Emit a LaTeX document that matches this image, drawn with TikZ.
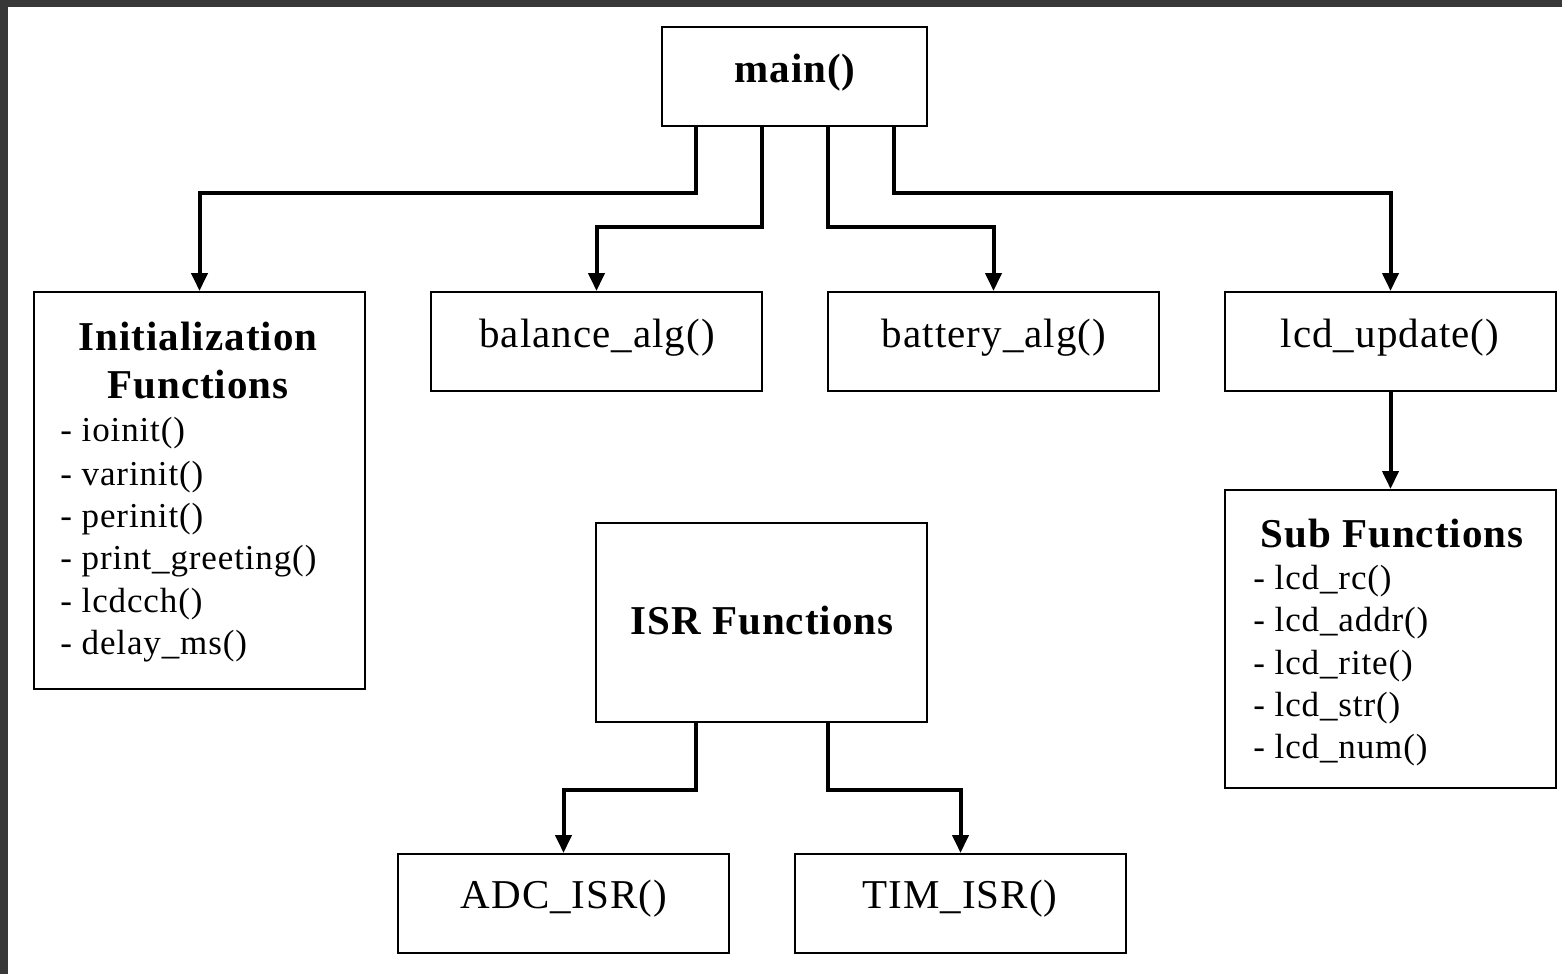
\documentclass[tikz,border=0pt]{standalone}
\usepackage{fontspec}
\setmainfont[LetterSpace=2.5]{Liberation Serif}
\usetikzlibrary{arrows.meta}
\begin{document}
\begin{tikzpicture}[x=0.5pt,y=-0.5pt,
  box/.style={draw=black,line width=1pt,fill=white,inner sep=0pt,minimum width=165.5pt,minimum height=49.5pt},
  lbl/.style={font=\fontsize{20.5}{24}\selectfont},
  ttl/.style={font=\fontsize{20.5}{24}\selectfont\bfseries},
  item/.style={font=\fontsize{17.5}{20}\selectfont,anchor=west,inner sep=0pt},
  conn/.style={line width=2pt,-{Triangle[length=9pt,width=8pt]}}]
\useasboundingbox (0,0) rectangle (1562,974);
\fill[white] (0,0) rectangle (1562,974);
\fill[black!78] (0,0) rectangle (1562,7);
\fill[black!78] (0,0) rectangle (8,974);
% boxes
\node[box,minimum width=132.5pt] (main) at (794.5,76.5) {};
\node[ttl] (maint) at (795,73) {main()};
\node[box,minimum height=198.5pt] (init) at (199.5,490.5) {};
\node[box] (bal) at (596.5,341.5) {};
\node[lbl] (balt) at (597,338) {balance\_alg()};
\node[box] (bat) at (993.5,341.5) {};
\node[lbl] (batt) at (994,338) {battery\_alg()};
\node[box] (lcd) at (1390.5,341.5) {};
\node[lbl] (lcdt) at (1390,338) {lcd\_update()};
\node[box,minimum height=149pt] (sub) at (1390.5,639) {};
\node[box,minimum height=99.5pt] (isr) at (761.5,622.5) {};
\node[ttl] (isrt) at (762,621) {ISR Functions};
\node[box] (adc) at (563.5,903.5) {};
\node[lbl] (adct) at (564,899) {ADC\_ISR()};
\node[box] (tim) at (960.5,903.5) {};
\node[lbl] (timt) at (960,899) {TIM\_ISR()};
% init text
\node[ttl] (it1) at (198,336) {Initialization};
\node[ttl] (it2) at (198,385) {Functions};
\node[item] (i1) at (60,433) {- ioinit()};
\node[item] (i2) at (60,477) {- varinit()};
\node[item] (i3) at (60,519) {- perinit()};
\node[item] (i4) at (60,561) {- print\_greeting()};
\node[item] (i5) at (60,604) {- lcdcch()};
\node[item] (i6) at (60,646) {- delay\_ms()};
% sub text
\node[ttl] (st) at (1392,534) {Sub Functions};
\node[item] (s1) at (1253,581) {- lcd\_rc()};
\node[item] (s2) at (1253,623) {- lcd\_addr()};
\node[item] (s3) at (1253,666) {- lcd\_rite()};
\node[item] (s4) at (1253,708) {- lcd\_str()};
\node[item] (s5) at (1253,750) {- lcd\_num()};
% connectors
\draw[conn] (main.south -| 696,0) -- (696,193) -| (init.north);
\draw[conn] (main.south -| 762,0) -- (762,227) -| (bal.north);
\draw[conn] (main.south -| 828,0) -- (828,227) -| (bat.north);
\draw[conn] (main.south -| 894,0) -- (894,193) -| (lcd.north);
\draw[conn] (lcd.south) -- (sub.north);
\draw[conn] (isr.south -| 696,0) -- (696,790) -| (adc.north);
\draw[conn] (isr.south -| 828,0) -- (828,790) -| (tim.north);
\end{tikzpicture}
\end{document}
